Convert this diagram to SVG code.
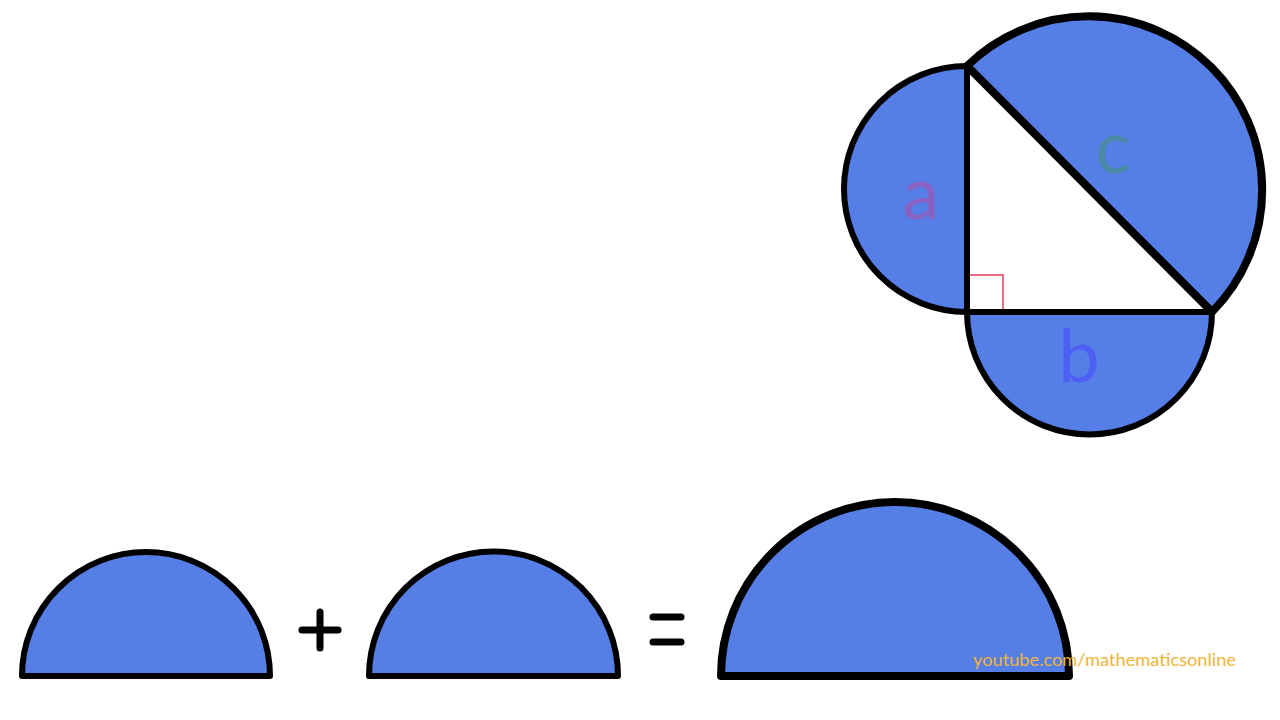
<svg xmlns="http://www.w3.org/2000/svg" width="1280" height="720" viewBox="0 0 1280 720">
  <style>
    .semi { fill: #557ee6; stroke: #000; stroke-width: 6; stroke-linejoin: round; }
    .big { stroke-width: 8; }
    .lbl { font-family: "Lato", "Open Sans", sans-serif; font-size: 74px; text-anchor: middle; }
    .op { stroke: #000; stroke-width: 7; stroke-linecap: round; fill: none; }
    .wm { font-family: "Lato", "Open Sans", sans-serif; font-size: 18px; fill: #efb43a; }
  </style>
  <rect x="0" y="0" width="1280" height="720" fill="#ffffff"/>

  <g id="figure">
    <g id="semi-a">
      <path class="semi" d="M967,66 A123,123 0 0 0 967,312 Z"/>
      <text class="lbl" x="921" y="219" fill="#8a62c4">a</text>
    </g>
    <g id="semi-b">
      <path class="semi" d="M967,312 A122.5,122.5 0 0 0 1212,312 Z"/>
      <text class="lbl" x="1079" y="382" fill="#4e60f4">b</text>
    </g>
    <g id="semi-c">
      <path class="semi big" d="M967,66 A173.6,173.6 0 0 1 1212,312 Z"/>
      <text class="lbl" x="1113" y="173" fill="#4a8aa6">c</text>
    </g>
    <g id="triangle">
      <path d="M967,66 L967,312 L1212,312 Z" fill="#ffffff" stroke="none"/>
      <rect x="967" y="275" width="36" height="37" fill="none" stroke="#e0405e" stroke-width="1.5"/>
      <line x1="967" y1="66" x2="967" y2="312" stroke="#000" stroke-width="6"/>
      <line x1="964" y1="312" x2="1212" y2="312" stroke="#000" stroke-width="6"/>
      <line x1="969" y1="68" x2="1212" y2="312" stroke="#000" stroke-width="8"/>
    </g>
  </g>

  <g id="equation">
    <g id="eq-semi-1">
      <path class="semi" d="M22,676 A124,124 0 0 1 270,676 Z"/>
    </g>
    <g id="plus">
      <line class="op" x1="302" y1="630" x2="338" y2="630"/>
      <line class="op" x1="320" y1="612" x2="320" y2="648"/>
    </g>
    <g id="eq-semi-2">
      <path class="semi" d="M369,676 A124.5,124.5 0 0 1 618,676 Z"/>
    </g>
    <g id="equals">
      <line class="op" x1="653" y1="617" x2="681" y2="617" stroke-width="8"/>
      <line class="op" x1="653" y1="642" x2="681" y2="642" stroke-width="8"/>
    </g>
    <g id="eq-semi-3">
      <path class="semi big" d="M721,676 A174,174 0 0 1 1069,676 Z"/>
    </g>
  </g>

  <text class="wm" x="973" y="666" textLength="263" lengthAdjust="spacingAndGlyphs">youtube.com/mathematicsonline</text>
</svg>
